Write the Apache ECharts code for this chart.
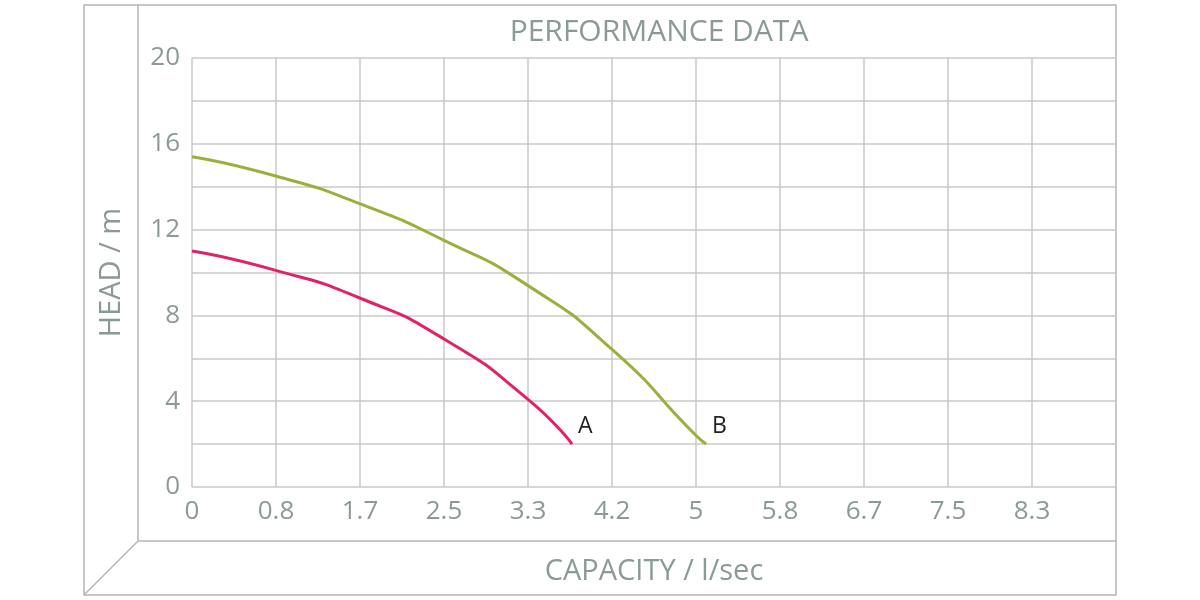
<!DOCTYPE html>
<html>
<head>
<meta charset="utf-8">
<script src="https://cdn.jsdelivr.net/npm/echarts@6/dist/echarts.min.js"></script>
<style>html,body{margin:0;background:#fff}#chart{width:1200px;height:600px}</style>
</head>
<body>
<div id="chart"></div>
<script>
// capacity (l/sec) and head (m)
const capA = [0, 0.83, 1.67, 2.5, 3.33, 3.77]
const headA = [11.0, 10.1, 8.8, 6.9, 4.1, 2.0]
const capB = [0, 0.83, 1.67, 2.5, 3.33, 4.17, 5.0, 5.1]
const headB = [15.4, 14.5, 13.2, 11.5, 9.4, 6.4, 2.4, 2.0]

const grey = '#8c9a95'
const font = 'Open Sans'
const chart = echarts.init(document.getElementById('chart'))

const pairs = (xs, ys) => xs.map((x, i) => [x, ys[i]])

chart.setOption({
  animation: false,
  title: {
    text: 'PERFORMANCE DATA',
    left: 654,
    top: 12,
    textAlign: 'center',
    textStyle: { color: grey, fontSize: 30, fontWeight: 'normal', fontFamily: font }
  },
  grid: { left: 192, right: 84, top: 58, bottom: 113 },
  xAxis: {
    type: 'value',
    min: 0,
    max: 55 / 6,
    interval: 5 / 6,
    name: 'CAPACITY / l/sec',
    nameLocation: 'middle',
    nameGap: 70,
    nameTextStyle: { color: grey, fontSize: 29, fontFamily: font },
    axisLine: { show: false },
    axisTick: { show: false },
    axisLabel: {
      color: grey, fontSize: 26, fontFamily: font, margin: 12,
      formatter: (v) => (v > 9 ? '' : String(Math.round(v * 10) / 10))
    },
    splitLine: { lineStyle: { color: '#c8c8c8', width: 1.5 } }
  },
  yAxis: {
    type: 'value',
    min: 0,
    max: 20,
    interval: 2,
    name: 'HEAD / m',
    nameLocation: 'middle',
    nameGap: 66,
    nameTextStyle: { color: grey, fontSize: 29, fontFamily: font },
    axisLine: { show: false },
    axisTick: { show: false },
    axisLabel: {
      color: grey, fontSize: 26, fontFamily: font, margin: 12,
      formatter: (v) => (v % 4 === 0 ? String(v) : '')
    },
    splitLine: { lineStyle: { color: '#c8c8c8', width: 1.5 } }
  },
  series: [
    {
      name: 'A', type: 'line', smooth: 0.6, symbol: 'none',
      lineStyle: { color: '#e0226a', width: 3 },
      data: pairs(capA, headA),
      endLabel: { show: true, formatter: 'A', color: '#222', fontSize: 23, fontFamily: font, offset: [-2, -18] }
    },
    {
      name: 'B', type: 'line', smooth: 0.6, symbol: 'none',
      lineStyle: { color: '#9caf3c', width: 3 },
      data: pairs(capB, headB),
      endLabel: { show: true, formatter: 'B', color: '#222', fontSize: 23, fontFamily: font, offset: [-2, -18] }
    }
  ],
  graphic: [
    { type: 'rect', shape: { x: 84, y: 5, width: 1032, height: 590 }, style: { fill: 'none', stroke: '#b5b5b5', lineWidth: 1.5 }, silent: true },
    { type: 'line', shape: { x1: 138, y1: 5, x2: 138, y2: 541 }, style: { stroke: '#b5b5b5', lineWidth: 1.5 }, silent: true },
    { type: 'line', shape: { x1: 138, y1: 541, x2: 1116, y2: 541 }, style: { stroke: '#b5b5b5', lineWidth: 1.5 }, silent: true },
    { type: 'line', shape: { x1: 84, y1: 595, x2: 138, y2: 541 }, style: { stroke: '#b5b5b5', lineWidth: 1.5 }, silent: true }
  ]
})
</script>
</body>
</html>
